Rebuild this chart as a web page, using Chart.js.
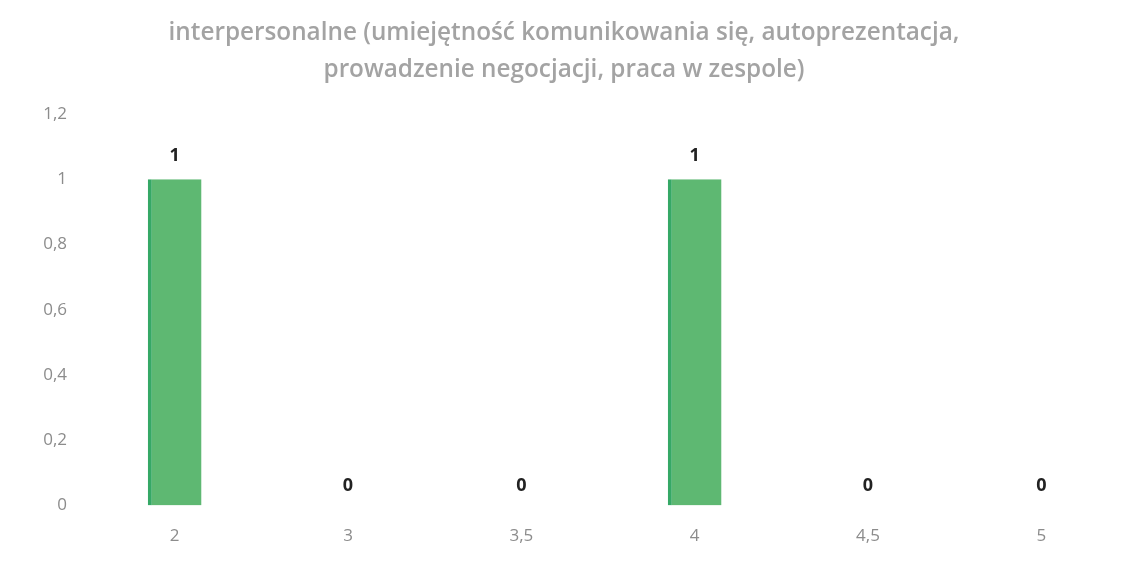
<!DOCTYPE html>
<html>
<head>
<meta charset="utf-8">
<script src="https://cdn.jsdelivr.net/npm/chart.js@4/dist/chart.umd.min.js"></script>
<style>
  html, body { margin: 0; padding: 0; background: #fff; }
  #wrap { width: 1148px; height: 566px; }
</style>
</head>
<body>
<div id="wrap"><canvas id="ocenaChart"></canvas></div>
<script>
// dane z wykresu
const categories = ['2', '3', '3,5', '4', '4,5', '5'];
const values = [1, 0, 0, 1, 0, 0];
const yTickLabels = ['0', '0,2', '0,4', '0,6', '0,8', '1', '1,2'];
const titleLines = ['interpersonalne (umiejętność komunikowania się, autoprezentacja,', 'prowadzenie negocjacji, praca w zespole)'];

// etykiety wartości nad słupkami
const valueLabels = {
    id: 'valueLabels',
    afterDatasetsDraw(chart) {
        const c = chart.ctx;
        c.save();
        c.font = 'bold 18px "Open Sans", sans-serif';
        c.fillStyle = '#222';
        c.textAlign = 'center';
        c.textBaseline = 'middle';
        chart.getDatasetMeta(0).data.forEach((bar, i) => {
            c.fillText(String(values[i]), bar.x, bar.y - (values[i] ? 23 : 20));
        });
        c.restore();
    }
};

const ctx = document.getElementById('ocenaChart');
new Chart(ctx, {
    type: 'bar',
    data: {
        labels: categories,
        datasets: [{
            data: values,
            backgroundColor: '#5eb872',
            borderColor: '#35a866',
            borderWidth: { left: 4, top: 0, right: 0, bottom: 0 },
            borderSkipped: false,
            barPercentage: 0.31,
            categoryPercentage: 1
        }]
    },
    options: {
        responsive: true,
        maintainAspectRatio: false,
        animation: false,
        layout: { padding: { left: 0, right: 20, top: 0, bottom: 0 } },
        plugins: {
            legend: { display: false },
            tooltip: { enabled: false },
            title: {
                display: true,
                text: titleLines,
                color: '#a3a3a3',
                font: { family: '"Open Sans", sans-serif', size: 24.3, weight: '600', lineHeight: 1.52 },
                padding: { top: 15, bottom: 25 }
            }
        },
        scales: {
            x: {
                grid: { display: false, drawTicks: false },
                border: { display: false },
                ticks: { color: '#8c8c8c', font: { family: '"Open Sans", sans-serif', size: 17 }, padding: 20 }
            },
            y: {
                min: 0,
                max: 1.2,
                afterFit(axis) { axis.width = 88; },
                grid: { display: false, drawTicks: false },
                border: { display: false },
                ticks: {
                    stepSize: 0.2,
                    color: '#8c8c8c',
                    font: { family: '"Open Sans", sans-serif', size: 17 },
                    padding: 21,
                    callback: (v, i) => yTickLabels[i]
                }
            }
        }
    },
    plugins: [valueLabels]
});
</script>
</body>
</html>
